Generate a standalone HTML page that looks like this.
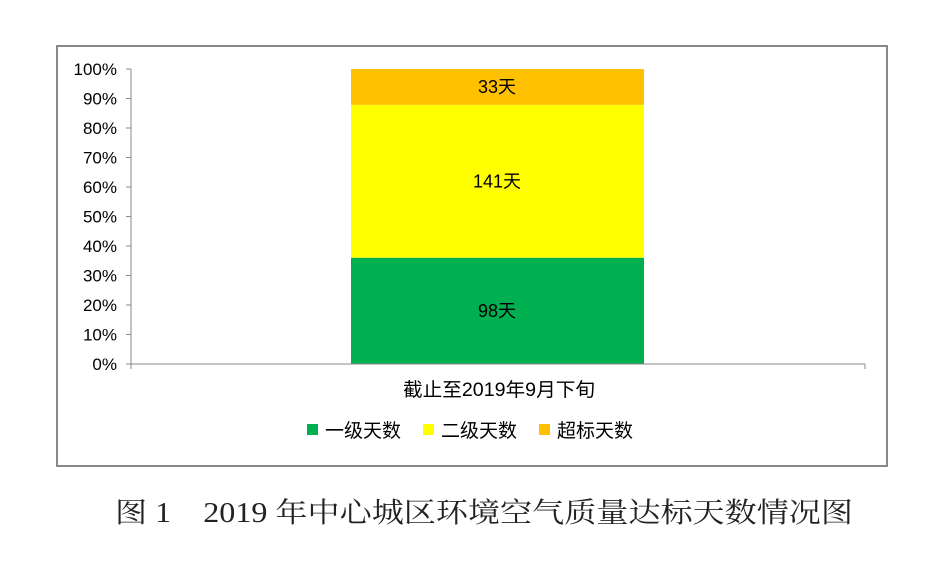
<!DOCTYPE html>
<html><head><meta charset="utf-8"><style>
body{margin:0;background:#fff;width:952px;height:570px;overflow:hidden}
svg{display:block}
text{font-family:"Liberation Sans Narrow","Liberation Sans","Noto Sans CJK SC",sans-serif}
</style></head><body>
<svg id="chart" width="952" height="570">
<rect x="57" y="46" width="830" height="420" fill="#fff" stroke="#888" stroke-width="2"/>
<g id="yaxis"></g>
<g id="bars"></g>
<line x1="131" y1="364" x2="865" y2="364" stroke="#888"/>
<line x1="131" y1="364" x2="131" y2="369" stroke="#888"/>
<line x1="865" y1="364" x2="865" y2="369" stroke="#888"/>
<text x="499" y="396" font-size="19" text-anchor="middle" textLength="192" lengthAdjust="spacingAndGlyphs">截止至2019年9月下旬</text>
<g id="legend"></g>
<text x="115" y="522" font-size="28" textLength="738" lengthAdjust="spacingAndGlyphs" style='font-family:"Liberation Serif","Noto Serif CJK SC",serif' fill="#222">图 1　2019 年中心城区环境空气质量达标天数情况图</text>
</svg>
<script>
const seriesNames=["一级天数","二级天数","超标天数"];
const seriesValues=[98,141,33];
const seriesColors=["#00B050","#FFFF00","#FFC000"];
const tickValues=[0,10,20,30,40,50,60,70,80,90,100];
const NS="http://www.w3.org/2000/svg";
const y0=364,y1=69,xL=131;
const yScale=p=>y0-(p/100)*(y0-y1);
function mk(t,a,p){const e=document.createElementNS(NS,t);for(const k in a)e.setAttribute(k,a[k]);p.appendChild(e);return e;}
const ya=document.getElementById('yaxis');
const yl=mk('line',{x1:xL,y1:y1,x2:xL,y2:y0,stroke:'#888'},ya);


tickValues.forEach(v=>{
 const y=yScale(v);
 const t=mk('line',{x1:xL-5,y1:y,x2:xL,y2:y,stroke:'#888'},ya);
 
 
 const l=mk('text',{x:117,y:y+6,'font-size':17,'text-anchor':'end'},ya);
 l.textContent=v+'%';
 
 
});
const total=seriesValues.reduce((a,b)=>a+b,0);
const bg=document.getElementById('bars');
let cum=0;
seriesValues.forEach((v,i)=>{
 const p0=cum/total*100,p1=(cum+v)/total*100;cum+=v;
 const r=mk('rect',{x:351,y:yScale(p1),width:293,height:yScale(p0)-yScale(p1),fill:seriesColors[i]},bg);
 
 
 const l=mk('text',{x:497,y:(yScale(p0)+yScale(p1))/2+6,'font-size':18,'text-anchor':'middle'},bg);
 l.textContent=v+'天';
 
 
});
const lg=document.getElementById('legend');
const lx=[307,423,539];
seriesNames.forEach((n,i)=>{
 const r=mk('rect',{x:lx[i],y:424,width:11,height:11,fill:seriesColors[i]},lg);
 
 
 const t=mk('text',{x:lx[i]+18,y:437,'font-size':19},lg);
 t.textContent=n;
 
 
});
</script>
</body></html>
